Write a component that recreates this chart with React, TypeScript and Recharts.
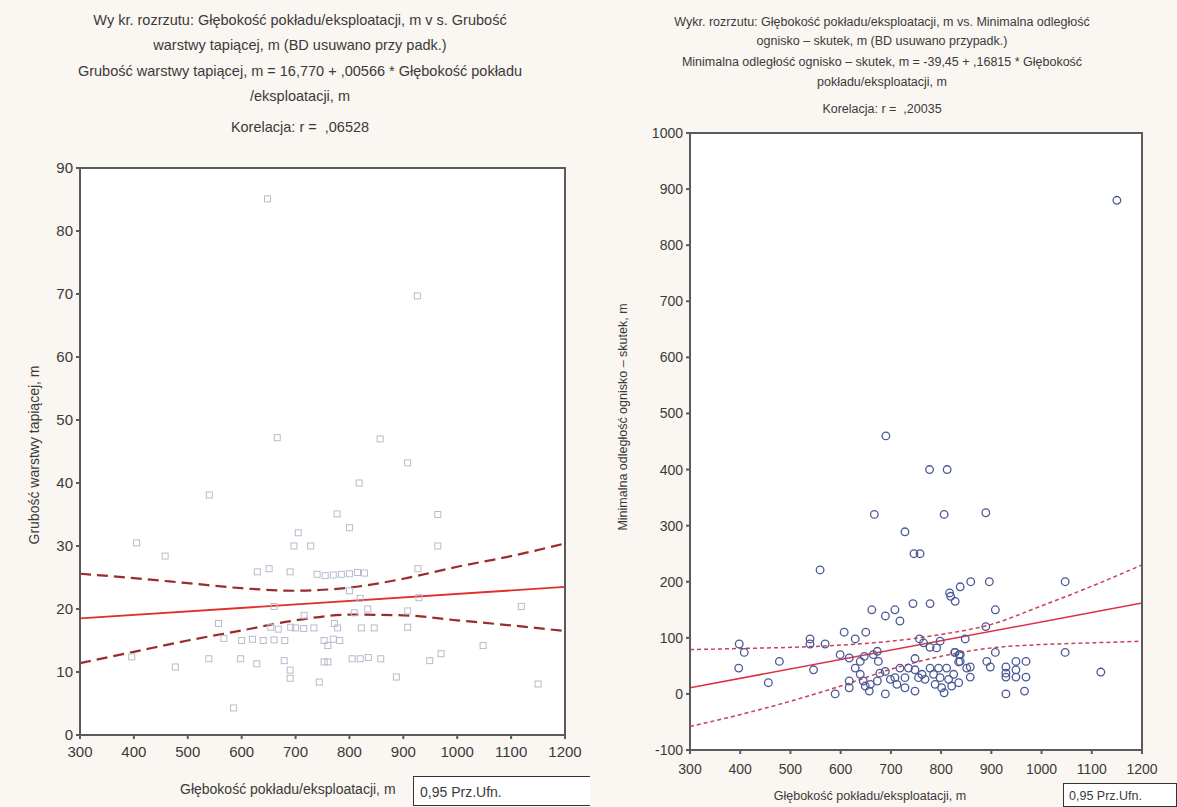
import { ComposedChart, Scatter, Line, XAxis, YAxis, CartesianGrid } from "recharts";

// depth axis shared by both panels
const depthTicks = [300, 400, 500, 600, 700, 800, 900, 1000, 1100, 1200];
const thicknessTicks = [0, 10, 20, 30, 40, 50, 60, 70, 80, 90];
const distanceTicks = [-100, 0, 100, 200, 300, 400, 500, 600, 700, 800, 900, 1000];

// left panel: depth vs thickness of the caving layer
const thicknessPoints = [
  { x: 405, y: 30.5 }, { x: 458, y: 28.4 }, { x: 540, y: 38.1 }, { x: 705, y: 32.1 },
  { x: 697, y: 30.0 }, { x: 728, y: 30.0 }, { x: 777, y: 35.1 }, { x: 800, y: 32.9 },
  { x: 818, y: 40.0 }, { x: 908, y: 43.2 }, { x: 964, y: 35.0 }, { x: 964, y: 30.0 },
  { x: 648, y: 85.1 }, { x: 926, y: 69.7 }, { x: 666, y: 47.2 }, { x: 857, y: 47.0 },
  { x: 629, y: 25.9 }, { x: 651, y: 26.4 }, { x: 690, y: 25.9 }, { x: 740, y: 25.5 },
  { x: 755, y: 25.3 }, { x: 770, y: 25.4 }, { x: 785, y: 25.5 }, { x: 800, y: 25.6 },
  { x: 815, y: 25.8 }, { x: 828, y: 25.7 }, { x: 927, y: 26.4 }, { x: 800, y: 22.9 },
  { x: 820, y: 21.7 }, { x: 929, y: 21.8 }, { x: 1119, y: 20.4 }, { x: 660, y: 20.4 },
  { x: 716, y: 19.0 }, { x: 809, y: 19.4 }, { x: 834, y: 20.0 }, { x: 908, y: 19.7 },
  { x: 557, y: 17.7 }, { x: 654, y: 17.1 }, { x: 668, y: 16.8 }, { x: 691, y: 17.1 },
  { x: 700, y: 17.0 }, { x: 715, y: 16.9 }, { x: 734, y: 17.0 }, { x: 772, y: 17.7 },
  { x: 778, y: 17.0 }, { x: 822, y: 17.0 }, { x: 846, y: 17.0 }, { x: 908, y: 17.1 },
  { x: 567, y: 15.3 }, { x: 600, y: 15.0 }, { x: 620, y: 15.2 }, { x: 640, y: 15.0 },
  { x: 660, y: 15.1 }, { x: 680, y: 15.0 }, { x: 753, y: 15.0 }, { x: 770, y: 15.2 },
  { x: 782, y: 15.0 }, { x: 760, y: 14.2 }, { x: 1048, y: 14.2 }, { x: 396, y: 12.4 },
  { x: 477, y: 10.8 }, { x: 539, y: 12.1 }, { x: 598, y: 12.1 }, { x: 628, y: 11.3 },
  { x: 679, y: 11.8 }, { x: 690, y: 10.3 }, { x: 690, y: 9.0 }, { x: 744, y: 8.4 },
  { x: 753, y: 11.6 }, { x: 760, y: 11.6 }, { x: 805, y: 12.1 }, { x: 820, y: 12.1 },
  { x: 835, y: 12.3 }, { x: 858, y: 12.1 }, { x: 887, y: 9.2 }, { x: 949, y: 11.8 },
  { x: 970, y: 12.9 }, { x: 1150, y: 8.1 }, { x: 585, y: 4.3 },
];
const thicknessFit = [{ x: 300, y: 18.5 }, { x: 1200, y: 23.5 }];
const thicknessUpper = [
  { x: 300, y: 25.6 }, { x: 400, y: 24.9 }, { x: 500, y: 24.1 }, { x: 600, y: 23.3 },
  { x: 700, y: 22.9 }, { x: 800, y: 23.4 }, { x: 900, y: 24.8 }, { x: 1000, y: 26.7 },
  { x: 1100, y: 28.4 }, { x: 1200, y: 30.4 },
];
const thicknessLower = [
  { x: 300, y: 11.4 }, { x: 400, y: 13.2 }, { x: 500, y: 15.0 }, { x: 600, y: 16.6 },
  { x: 700, y: 18.2 }, { x: 800, y: 19.1 }, { x: 900, y: 19.0 }, { x: 1000, y: 18.2 },
  { x: 1100, y: 17.4 }, { x: 1200, y: 16.5 },
];

// right panel: depth vs minimal focus-effect distance
const distancePoints = [
  { x: 690, y: 460 }, { x: 777, y: 400 }, { x: 812, y: 400 }, { x: 667, y: 320 },
  { x: 806, y: 320 }, { x: 889, y: 323 }, { x: 728, y: 289 }, { x: 746, y: 250 },
  { x: 758, y: 250 }, { x: 559, y: 221 }, { x: 859, y: 200 }, { x: 896, y: 200 },
  { x: 1047, y: 200 }, { x: 838, y: 191 }, { x: 817, y: 180 }, { x: 819, y: 174 },
  { x: 828, y: 165 }, { x: 744, y: 161 }, { x: 778, y: 161 }, { x: 662, y: 150 },
  { x: 708, y: 150 }, { x: 908, y: 150 }, { x: 689, y: 139 }, { x: 718, y: 130 },
  { x: 889, y: 120 }, { x: 607, y: 110 }, { x: 650, y: 110 }, { x: 539, y: 98 },
  { x: 629, y: 98 }, { x: 539, y: 89 }, { x: 569, y: 89 }, { x: 398, y: 89 },
  { x: 408, y: 74 }, { x: 757, y: 98 }, { x: 765, y: 91 }, { x: 778, y: 83 },
  { x: 791, y: 82 }, { x: 798, y: 94 }, { x: 848, y: 98 }, { x: 908, y: 74 },
  { x: 1047, y: 74 }, { x: 827, y: 74 }, { x: 836, y: 70 }, { x: 835, y: 57 },
  { x: 478, y: 58 }, { x: 397, y: 46 }, { x: 546, y: 43 }, { x: 456, y: 20 },
  { x: 589, y: 0 }, { x: 891, y: 58 }, { x: 898, y: 48 }, { x: 929, y: 48 },
  { x: 929, y: 37 }, { x: 949, y: 58 }, { x: 949, y: 43 }, { x: 969, y: 58 },
  { x: 969, y: 30 }, { x: 929, y: 30 }, { x: 949, y: 30 }, { x: 929, y: 0 },
  { x: 966, y: 5 }, { x: 1118, y: 39 }, { x: 1150, y: 880 },
  { x: 599, y: 70 }, { x: 617, y: 64 }, { x: 617, y: 23 }, { x: 617, y: 11 },
  { x: 629, y: 46 }, { x: 639, y: 58 }, { x: 647, y: 67 }, { x: 639, y: 35 },
  { x: 645, y: 23 }, { x: 649, y: 14 }, { x: 657, y: 5 }, { x: 659, y: 17 },
  { x: 665, y: 70 }, { x: 673, y: 76 }, { x: 675, y: 58 }, { x: 678, y: 37 },
  { x: 673, y: 23 }, { x: 689, y: 0 }, { x: 689, y: 40 }, { x: 699, y: 26 },
  { x: 708, y: 29 }, { x: 712, y: 17 }, { x: 718, y: 46 }, { x: 728, y: 29 },
  { x: 728, y: 11 }, { x: 735, y: 46 }, { x: 748, y: 43 }, { x: 748, y: 5 },
  { x: 748, y: 63 }, { x: 755, y: 29 }, { x: 762, y: 35 }, { x: 768, y: 26 },
  { x: 778, y: 46 }, { x: 785, y: 35 }, { x: 788, y: 17 }, { x: 795, y: 46 },
  { x: 798, y: 29 }, { x: 801, y: 11 }, { x: 806, y: 2 }, { x: 811, y: 46 },
  { x: 815, y: 26 }, { x: 821, y: 14 }, { x: 825, y: 35 }, { x: 835, y: 20 },
  { x: 838, y: 58 }, { x: 828, y: 74 }, { x: 838, y: 70 }, { x: 851, y: 46 },
  { x: 858, y: 30 }, { x: 858, y: 48 },
];
const distanceFit = [{ x: 300, y: 11 }, { x: 1200, y: 162 }];
const distanceUpper = [
  { x: 300, y: 79 }, { x: 400, y: 81 }, { x: 500, y: 83 }, { x: 600, y: 87 },
  { x: 700, y: 94 }, { x: 800, y: 106 }, { x: 900, y: 124 }, { x: 1000, y: 157 },
  { x: 1100, y: 192 }, { x: 1200, y: 230 },
];
const distanceLower = [
  { x: 300, y: -58 }, { x: 400, y: -37 }, { x: 500, y: -13 }, { x: 600, y: 14 },
  { x: 700, y: 44 }, { x: 800, y: 67 }, { x: 900, y: 82 }, { x: 1000, y: 88 },
  { x: 1100, y: 91 }, { x: 1200, y: 94 },
];

const frame = "#5a5a5a";
const textColor = "#3a3a3a";

const abs = (left: number, top: number, extra: object = {}) => ({
  position: "absolute" as const,
  left,
  top,
  whiteSpace: "nowrap" as const,
  color: textColor,
  ...extra,
});

function Centered({ cx, cy, size, children }: { cx: number; cy: number; size: number; children: any }) {
  return (
    <div style={abs(cx, cy, { fontSize: size, transform: "translate(-50%, -50%)" })}>{children}</div>
  );
}

function Vertical({ cx, cy, size, children }: { cx: number; cy: number; size: number; children: any }) {
  return (
    <div style={abs(cx, cy, { fontSize: size, transform: "translate(-50%, -50%) rotate(-90deg)" })}>
      {children}
    </div>
  );
}

// plot frame drawn over the chart
function Frame({ left, top, width, height }: { left: number; top: number; width: number; height: number }) {
  return (
    <div
      style={{
        position: "absolute",
        left: left - 1,
        top: top - 1,
        width: width + 2,
        height: height + 2,
        border: `2px solid ${frame}`,
        boxSizing: "border-box",
        pointerEvents: "none",
      }}
    />
  );
}

const squareMarker = (p: any) => (
  <rect x={p.cx - 3} y={p.cy - 3} width={6} height={6} fill="none" stroke="#b8bbcc" strokeWidth={1} />
);
const circleMarker = (p: any) => (
  <circle cx={p.cx} cy={p.cy} r={3.8} fill="none" stroke="#4b5894" strokeWidth={1.3} />
);

export default function App() {
  return (
    <div
      style={{
        position: "absolute",
        left: 0,
        top: 0,
        width: 1177,
        height: 807,
        background: "#faf6f1",
        fontFamily: "'Liberation Sans', Arial, sans-serif",
        overflow: "hidden",
      }}
    >
      {/* left panel */}
      <div style={{ position: "absolute", left: 0, top: 0 }}>
        <ComposedChart width={590} height={807} margin={{ top: 168, right: 25, bottom: 42, left: 0 }}>
          <rect x={80} y={168} width={485} height={567} fill="#ffffff" />
          <CartesianGrid stroke="#e4e4e8" horizontalValues={thicknessTicks} verticalValues={depthTicks} />
          <XAxis
            dataKey="x"
            type="number"
            domain={[300, 1200]}
            ticks={depthTicks}
            allowDataOverflow
            height={30}
            stroke={frame}
            strokeWidth={2}
            tickSize={4}
            tickMargin={7}
            tick={{ fill: textColor, fontSize: 15 }}
          />
          <XAxis
            xAxisId="top"
            orientation="top"
            dataKey="x"
            type="number"
            domain={[300, 1200]}
            ticks={depthTicks}
            height={0}
            mirror
            tick={false}
            tickSize={4}
            stroke={frame}
            strokeWidth={2}
          />
          <YAxis
            dataKey="y"
            type="number"
            domain={[0, 90]}
            ticks={thicknessTicks}
            allowDataOverflow
            width={80}
            stroke={frame}
            strokeWidth={2}
            tickSize={4}
            tickMargin={3}
            tick={{ fill: textColor, fontSize: 15 }}
          />
          <YAxis
            yAxisId="right"
            orientation="right"
            type="number"
            domain={[0, 90]}
            ticks={thicknessTicks}
            width={0}
            mirror
            tick={false}
            tickSize={4}
            stroke={frame}
            strokeWidth={2}
          />
          <Scatter data={thicknessPoints} dataKey="y" shape={squareMarker} isAnimationActive={false} />
          <Line data={thicknessFit} dataKey="y" type="linear" stroke="#e0302c" strokeWidth={1.8} dot={false} activeDot={false} isAnimationActive={false} />
          <Line data={thicknessUpper} dataKey="y" type="monotone" stroke="#9c2b2b" strokeWidth={2.2} strokeDasharray="11 6" dot={false} activeDot={false} isAnimationActive={false} />
          <Line data={thicknessLower} dataKey="y" type="monotone" stroke="#9c2b2b" strokeWidth={2.2} strokeDasharray="11 6" dot={false} activeDot={false} isAnimationActive={false} />
        </ComposedChart>
      </div>
      <Frame left={80} top={168} width={485} height={567} />

      <Centered cx={300} cy={20} size={14.5}>Wy kr. rozrzutu: Głębokość pokładu/eksploatacji, m v s. Grubość</Centered>
      <Centered cx={300} cy={45} size={14.5}>warstwy tapiącej, m (BD usuwano przy padk.)</Centered>
      <Centered cx={300} cy={71} size={14.5}>Grubość warstwy tapiącej, m = 16,770 + ,00566 * Głębokość pokładu</Centered>
      <Centered cx={300} cy={96} size={14.5}>/eksploatacji, m</Centered>
      <Centered cx={300} cy={127} size={14.5}>Korelacja: r = &nbsp;,06528</Centered>
      <Vertical cx={34} cy={455} size={14}>Grubość warstwy tapiącej, m</Vertical>
      <div style={abs(180, 781, { fontSize: 14 })}>Głębokość pokładu/eksploatacji, m</div>
      <div
        style={abs(413, 776, {
          fontSize: 14,
          width: 185,
          height: 30,
          border: "1px solid #333",
          background: "#ffffff",
          paddingLeft: 6,
          lineHeight: "30px",
          boxSizing: "border-box",
        })}
      >
        0,95 Prz.Ufn.
      </div>

      {/* right panel */}
      <div style={{ position: "absolute", left: 590, top: 0, background: "#faf6f1" }}>
        <ComposedChart width={587} height={807} margin={{ top: 133, right: 35, bottom: 27, left: 0 }}>
          <rect x={100} y={133} width={452} height={617} fill="#ffffff" />
          <CartesianGrid stroke="#e4e4e8" horizontalValues={distanceTicks} verticalValues={depthTicks} />
          <XAxis
            dataKey="x"
            type="number"
            domain={[300, 1200]}
            ticks={depthTicks}
            allowDataOverflow
            height={30}
            stroke={frame}
            strokeWidth={2}
            tickSize={4}
            tickMargin={10}
            tick={{ fill: textColor, fontSize: 14 }}
          />
          <XAxis
            xAxisId="top"
            orientation="top"
            dataKey="x"
            type="number"
            domain={[300, 1200]}
            ticks={depthTicks}
            height={0}
            mirror
            tick={false}
            tickSize={4}
            stroke={frame}
            strokeWidth={2}
          />
          <YAxis
            dataKey="y"
            type="number"
            domain={[-100, 1000]}
            ticks={distanceTicks}
            allowDataOverflow
            width={100}
            stroke={frame}
            strokeWidth={2}
            tickSize={4}
            tickMargin={3}
            tick={{ fill: textColor, fontSize: 14 }}
          />
          <YAxis
            yAxisId="right"
            orientation="right"
            type="number"
            domain={[-100, 1000]}
            ticks={distanceTicks}
            width={0}
            mirror
            tick={false}
            tickSize={4}
            stroke={frame}
            strokeWidth={2}
          />
          <Scatter data={distancePoints} dataKey="y" shape={circleMarker} isAnimationActive={false} />
          <Line data={distanceFit} dataKey="y" type="linear" stroke="#dc2f48" strokeWidth={1.5} dot={false} activeDot={false} isAnimationActive={false} />
          <Line data={distanceUpper} dataKey="y" type="monotone" stroke="#c8405a" strokeWidth={1.5} strokeDasharray="4 3" dot={false} activeDot={false} isAnimationActive={false} />
          <Line data={distanceLower} dataKey="y" type="monotone" stroke="#c8405a" strokeWidth={1.5} strokeDasharray="4 3" dot={false} activeDot={false} isAnimationActive={false} />
        </ComposedChart>
      </div>
      <Frame left={690} top={133} width={452} height={617} />

      <Centered cx={882} cy={22} size={12.5}>Wykr. rozrzutu: Głębokość pokładu/eksploatacji, m vs. Minimalna odległość</Centered>
      <Centered cx={882} cy={41} size={12.5}>ognisko – skutek, m (BD usuwano przypadk.)</Centered>
      <Centered cx={882} cy={62} size={12.5}>Minimalna odległość ognisko – skutek, m = -39,45 + ,16815 * Głębokość</Centered>
      <Centered cx={882} cy={82} size={12.5}>pokładu/eksploatacji, m</Centered>
      <Centered cx={882} cy={109} size={12.5}>Korelacja: r = &nbsp;,20035</Centered>
      <Vertical cx={623} cy={417} size={12.5}>Minimalna odległość ognisko – skutek, m</Vertical>
      <Centered cx={870} cy={796} size={12.5}>Głębokość pokładu/eksploatacji, m</Centered>
      <div
        style={abs(1063, 783, {
          fontSize: 12.5,
          width: 114,
          height: 24,
          border: "1px solid #333",
          background: "#ffffff",
          paddingLeft: 5,
          lineHeight: "24px",
          boxSizing: "border-box",
        })}
      >
        0,95 Prz.Ufn.
      </div>
    </div>
  );
}
